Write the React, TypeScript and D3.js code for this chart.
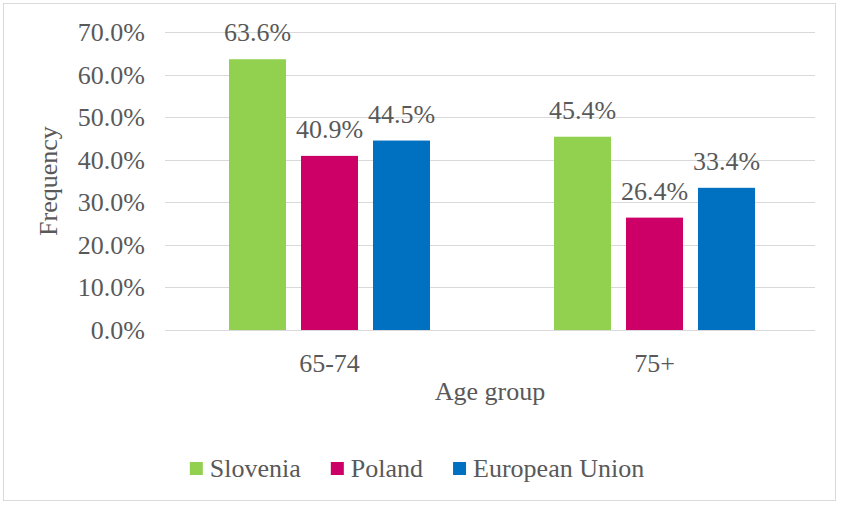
import React, { useEffect, useRef } from "react";
import * as d3 from "d3";

const categories = ["65-74", "75+"];
const seriesNames = ["Slovenia", "Poland", "European Union"];
const slovenia = [63.6, 45.4];
const poland = [40.9, 26.4];
const europeanUnion = [44.5, 33.4];
const yTicks = [0, 10, 20, 30, 40, 50, 60, 70];
const colors = ["#92D050", "#CC0066", "#0070C0"];

export default function App() {
  const ref = useRef<SVGSVGElement | null>(null);

  useEffect(() => {
    const svg = d3.select(ref.current);
    svg.selectAll("*").remove();
    const W = 842;
    const font = "Liberation Serif, Times New Roman, Times, serif";
    const txt = "#595959";
    const fs = 26;
    const style = (sel: any) => sel.style("font-family", font).style("font-size", fs + "px").attr("fill", txt);

    svg.append("rect").attr("x", 3.5).attr("y", 3.5).attr("width", 832).attr("height", 497)
      .attr("fill", "#fff").attr("stroke", "#d9d9d9").attr("stroke-width", 1);

    const left = 165, right = 815, top = 32, bottom = 330;
    const y = d3.scaleLinear().domain([0, 70]).range([bottom, top]);
    const x0 = d3.scaleBand().domain(categories).range([left, right]).paddingInner(0).paddingOuter(0);
    const series = [slovenia, poland, europeanUnion];
    const barW = 57, gap = 15;
    const groupW = 3 * barW + 2 * gap;
    const x1 = d3.scaleBand().domain(seriesNames).range([0, groupW]).paddingInner(gap / (barW + gap)).paddingOuter(0);

    const g = svg.append("g");
    g.selectAll("line.grid").data(yTicks).enter().append("line")
      .attr("x1", left).attr("x2", right)
      .attr("y1", d => Math.round(y(d)) + 0.5).attr("y2", d => Math.round(y(d)) + 0.5)
      .attr("stroke", "#d9d9d9").attr("stroke-width", 1);

    style(g.selectAll("text.ytick").data(yTicks).enter().append("text")
      .attr("x", 145).attr("y", d => y(d) + 9)
      .attr("text-anchor", "end"))
      .text(d => d.toFixed(1) + "%");

    categories.forEach((c, ci) => {
      const gx = (x0(c) as number) + x0.bandwidth() / 2 - groupW / 2 + 2;
      series.forEach((s, si) => {
        const bx = gx + (x1(seriesNames[si]) as number);
        const v = s[ci];
        g.append("rect").attr("x", bx).attr("y", y(v)).attr("width", x1.bandwidth())
          .attr("height", y(0) - y(v)).attr("fill", colors[si]);
        style(g.append("text").attr("x", bx + x1.bandwidth() / 2).attr("y", y(v) - 18)
          .attr("text-anchor", "middle"))
          .text(v.toFixed(1) + "%");
      });
      style(g.append("text").attr("x", (x0(c) as number) + x0.bandwidth() / 2 + 2).attr("y", 372)
        .attr("text-anchor", "middle"))
        .text(c);
    });

    style(svg.append("text").attr("x", (left + right) / 2).attr("y", 400)
      .attr("text-anchor", "middle"))
      .text("Age group");

    style(svg.append("text").attr("transform", `translate(57,${(top + bottom) / 2}) rotate(-90)`)
      .attr("text-anchor", "middle"))
      .text("Frequency");

    // legend
    const lg = svg.append("g");
    let cx = 0;
    seriesNames.forEach((n, i) => {
      const item = lg.append("g").attr("transform", `translate(${cx},0)`);
      item.append("rect").attr("x", 0).attr("y", 462).attr("width", 13).attr("height", 13).attr("fill", colors[i]);
      const t = style(item.append("text").attr("x", 20).attr("y", 477)).text(n);
      const w = (t.node() as SVGTextElement).getComputedTextLength();
      cx += 20 + w + 30;
    });
    const total = cx - 30;
    lg.attr("transform", `translate(${(W - total) / 2 - 4},0)`);
  }, []);

  return <svg ref={ref} width={842} height={505} style={{ display: "block", position: "absolute", left: 0, top: 0 }} />;
}
